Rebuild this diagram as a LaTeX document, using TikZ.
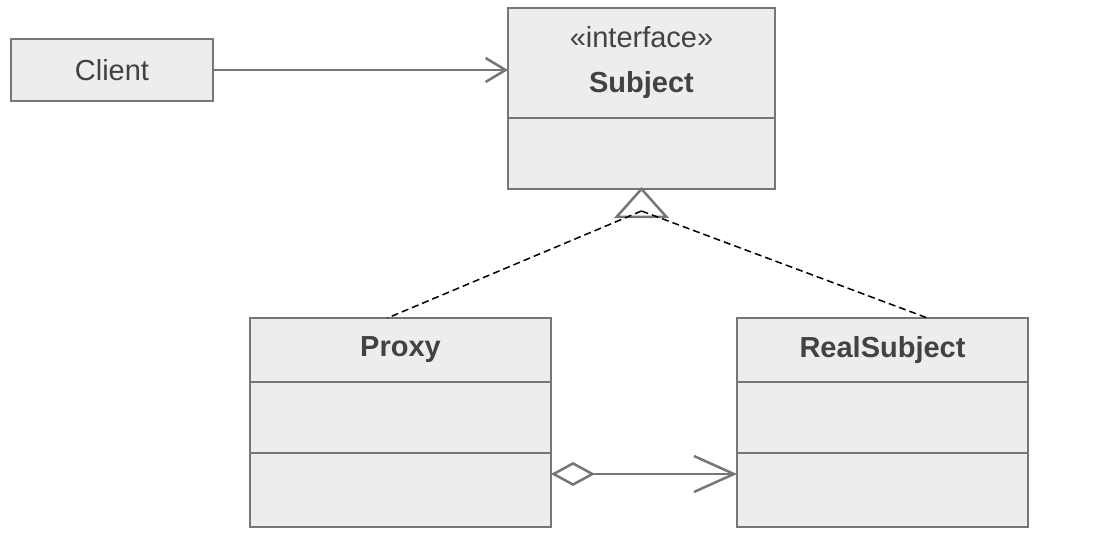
\documentclass[tikz,border=0pt]{standalone}
\usepackage{fontspec}
\setmainfont{Liberation Sans}
\usepackage{tikz}
\usetikzlibrary{positioning,arrows.meta}
\definecolor{umlfill}{RGB}{237,237,237}
\definecolor{umldraw}{RGB}{118,118,118}
\definecolor{umltext}{RGB}{66,66,66}

\begin{document}
\begin{tikzpicture}[x=1pt, y=-1pt,
    classbox/.style={rectangle, draw=umldraw, fill=umlfill, line width=2.5pt, outer sep=0pt, inner sep=0pt, text=umltext, font=\fontsize{29}{45}\selectfont, align=center},
    umlline/.style={draw=umldraw, line width=2.5pt},
    realizes/.style={black, line width=1.5pt, dash pattern=on 7pt off 4pt}]
    \useasboundingbox (0,0) rectangle (1095,540);
    \node[classbox, minimum width=202pt, minimum height=62pt] (client) at (112,70) {Client};
    \node[classbox, minimum width=267pt, minimum height=110pt] (subhead) at (641.5,63) {«interface»\\\textbf{Subject}};
    \node[classbox, minimum width=267pt, minimum height=71pt, below=0pt of subhead] (subbody) {};
    \node[classbox, minimum width=301pt, minimum height=64pt] (pxhead) at (400.5,350) {\textbf{Proxy}};
    \node[classbox, minimum width=301pt, minimum height=71pt, below=0pt of pxhead] (pxattr) {};
    \node[classbox, minimum width=301pt, minimum height=74pt, below=0pt of pxattr] (pxops) {};
    \node[classbox, minimum width=291pt, minimum height=64pt] (rshead) at (882.5,350) {\textbf{RealSubject}};
    \node[classbox, minimum width=291pt, minimum height=71pt, below=0pt of rshead] (rsattr) {};
    \node[classbox, minimum width=291pt, minimum height=74pt, below=0pt of rsattr] (rsops) {};
    \coordinate (genpt) at ([yshift=-22pt]subbody.south);
    \draw[umlline, -{Straight Barb[length=20pt, width=24pt]}] (client.east) -- (client.east -| subhead.west);
    \draw[umlline, {Diamond[open, length=44pt, width=24pt]}-{Straight Barb[length=40pt, width=36pt]}] ([yshift=16pt]pxops.east) -- ([yshift=16pt]rsops.west);
    \draw[umlline, line join=miter] (subbody.south) -- ++(-25,28) -- ++(50,0) -- cycle;
    \draw[realizes] (genpt) -- ([xshift=-13pt]pxhead.north);
    \draw[realizes] (genpt) -- ([xshift=45pt]rshead.north);
\end{tikzpicture}
\end{document}
